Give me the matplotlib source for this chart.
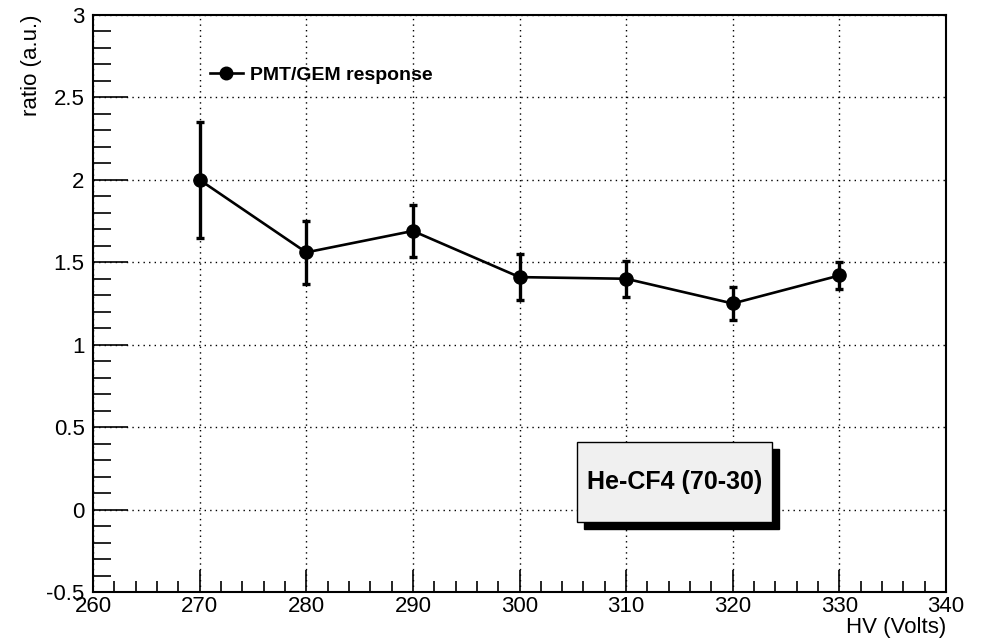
import matplotlib.pyplot as plt
from matplotlib.ticker import MultipleLocator
from matplotlib.patches import Rectangle

plt.rcParams["font.family"] = ["Liberation Sans", "DejaVu Sans"]

hv = [270, 280, 290, 300, 310, 320, 330]
ratio = [2.00, 1.56, 1.69, 1.41, 1.40, 1.25, 1.42]
err_up = [0.35, 0.19, 0.16, 0.14, 0.11, 0.10, 0.08]
err_down = [0.35, 0.19, 0.16, 0.14, 0.11, 0.10, 0.08]
series_label = "PMT/GEM response"
box_text = "He-CF4 (70-30)"


def main():
    fig = plt.figure(figsize=(9.83, 6.43), dpi=100)
    ax = fig.add_axes([0.0946, 0.0793, 0.8678, 0.8974])

    ax.errorbar(hv, ratio, yerr=[err_down, err_up], fmt="none",
                ecolor="black", elinewidth=2.4, capsize=3, capthick=2.4,
                zorder=3)
    ax.plot(hv, ratio, "-o", color="black", lw=1.9, ms=9.5,
            label=series_label, zorder=4)

    ax.set_xlim(260, 340)
    ax.set_ylim(-0.5, 3)
    ax.xaxis.set_major_locator(MultipleLocator(10))
    ax.xaxis.set_minor_locator(MultipleLocator(2))
    ax.yaxis.set_major_locator(MultipleLocator(0.5))
    ax.yaxis.set_minor_locator(MultipleLocator(0.1))
    ax.tick_params(which="both", direction="in", top=False, right=False,
                   labelsize=16, width=1.2, color="black")
    ax.tick_params(axis="y", which="major", length=25, pad=6)
    ax.tick_params(axis="y", which="minor", length=13)
    ax.tick_params(axis="x", which="major", length=16, pad=3)
    ax.tick_params(axis="x", which="minor", length=8)
    ax.set_yticklabels(["%g" % t for t in ax.get_yticks()])
    ax.grid(True, which="major", ls=(0, (1, 3)), color="black", lw=1.0)
    for s in ax.spines.values():
        s.set_linewidth(1.5)

    ax.set_xlabel("HV (Volts)", fontsize=16, loc="right", labelpad=0)
    ax.set_ylabel("ratio (a.u.)", fontsize=16, loc="top", labelpad=3)

    ax.legend(loc="center left", bbox_to_anchor=(192 / 983, 1 - 75 / 643),
              bbox_transform=fig.transFigure, frameon=False,
              prop={"weight": "bold", "size": 14}, handlelength=1.7,
              handletextpad=0.4, markerscale=0.95)

    # shadowed text box in figure pixels
    x0, y0, w, h = 577 / 983, 1 - 522 / 643, 195 / 983, 80 / 643
    dx, dy = 7 / 983, 7 / 643
    fig.patches.append(Rectangle((x0 + dx, y0 - dy), w, h, transform=fig.transFigure,
                                 facecolor="black", edgecolor="black", zorder=5))
    fig.patches.append(Rectangle((x0, y0), w, h, transform=fig.transFigure,
                                 facecolor="#f0f0f0", edgecolor="black", lw=1.0,
                                 zorder=6))
    fig.text(x0 + w / 2, y0 + h / 2, box_text, ha="center", va="center",
             fontsize=18, fontweight="bold", zorder=7)

    fig.savefig("out.png", dpi=100)


if __name__ == "__main__":
    main()
